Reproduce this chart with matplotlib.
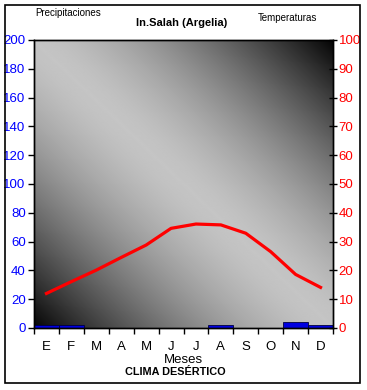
import numpy as np
from matplotlib import pyplot as plt
from matplotlib.patches import Rectangle

plt.rcParams['font.family'] = ['Liberation Sans', 'DejaVu Sans']

# datos climaticos In.Salah
meses = ['E', 'F', 'M', 'A', 'M', 'J', 'J', 'A', 'S', 'O', 'N', 'D']
precipitaciones = [2.0, 2.0, 0.3, 0.3, 0.3, 0.0, 0.0, 2.0, 0.3, 0.3, 4.5, 2.0]
temperaturas = [12.0, 16.1, 20.1, 24.5, 28.8, 34.6, 36.1, 35.8, 32.9, 26.5, 18.6, 14.1]
precip_ticks = list(range(0, 201, 20))
temp_ticks = list(range(0, 101, 10))

fig = plt.figure(figsize=(3.67, 3.9), dpi=100)
ax = fig.add_axes([34/367, 62/390, 299/367, 288/390])

# fondo degradado diagonal
n = 300
xx, yy = np.meshgrid(np.linspace(0, 1, n), np.linspace(0, 1, n))
u = (xx + yy) / 2
grad = 0.75 * (1 - np.abs(2*u - 1)**1.5) + 0.02
ax.imshow(grad, cmap='gray', vmin=0, vmax=1, origin='lower', extent=[0, 1, 0, 1],
          transform=ax.transAxes, aspect='auto', zorder=0, interpolation='bilinear')

x = np.arange(len(meses)) + 0.5
ax.bar(x, precipitaciones, width=1.0, color='#0000e0', edgecolor='#000040', lw=0.6, zorder=2)
ax.set_xlim(0, 12)
ax.set_ylim(0, 200)
ax.set_yticks(precip_ticks)
ax.tick_params(axis='y', color='black', labelcolor='blue', labelsize=9.5, direction='out', length=4, width=1, pad=2)
ax.set_xticks(np.arange(0, 13))
ax.set_xticklabels([])
ax.set_xticks(x, minor=True)
ax.set_xticklabels(meses, minor=True, fontsize=9.5)
ax.tick_params(axis='x', which='major', direction='out', length=4, width=1, color='black')
ax.tick_params(axis='x', which='minor', length=0, pad=9)
ax.set_xlabel('Meses', fontsize=9.5, labelpad=1)

ax2 = ax.twinx()
ax2.plot(x, temperaturas, color='red', lw=2.3, zorder=3)
ax2.set_ylim(0, 100)
ax2.set_yticks(temp_ticks)
ax2.tick_params(axis='y', color='black', labelcolor='red', labelsize=9.5, direction='inout', length=6, width=1, pad=1)

for a in (ax, ax2):
    for s in a.spines.values():
        s.set_color('black')
        s.set_linewidth(1)

fig.text(68/367, 1 - 13/390, 'Precipitaciones', fontsize=7, ha='center', va='center')
fig.text(287/367, 1 - 18/390, 'Temperaturas', fontsize=7, ha='center', va='center')
fig.text(182/367, 1 - 23/390, 'In.Salah (Argelia)', fontsize=8, fontweight='bold', ha='center', va='center')
fig.text(175/367, 1 - 372/390, 'CLIMA DESÉRTICO', fontsize=7.8, fontweight='bold', ha='center', va='center')

# marco exterior
fig.patches.append(Rectangle((5/367, 7/390), 355/367, 378/390, transform=fig.transFigure,
                             fill=False, edgecolor='black', lw=1.2))

plt.savefig('out.png', dpi=100)
